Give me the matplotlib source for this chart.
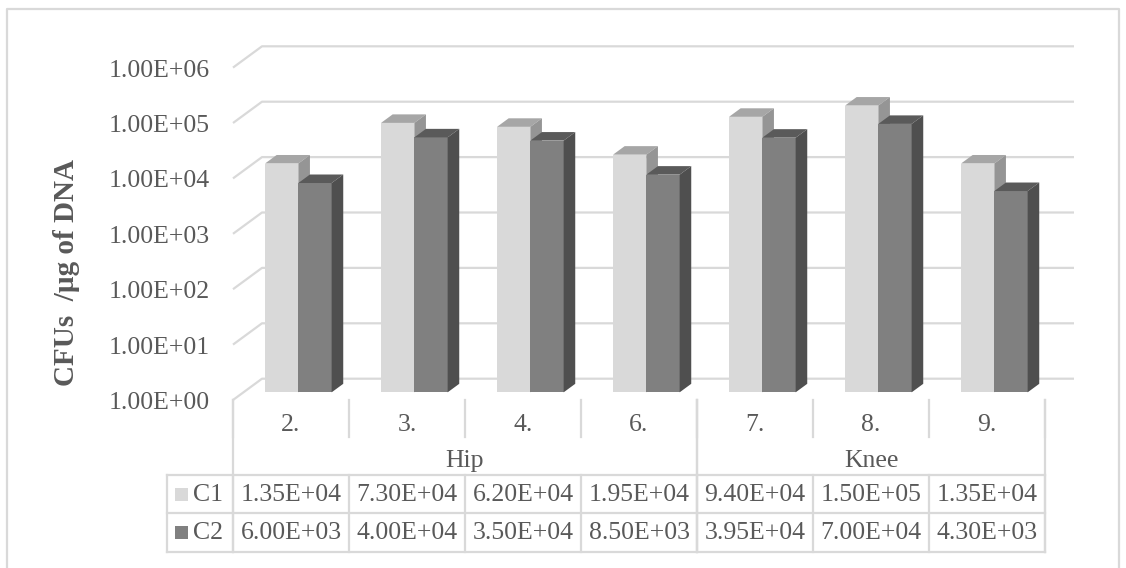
"""Excel-style 3D clustered columns (log scale) with a data table underneath."""

import matplotlib
matplotlib.use("Agg")
import matplotlib.pyplot as plt  # noqa: E402
import numpy as np  # noqa: E402
from matplotlib.patches import Polygon, Rectangle  # noqa: E402

# ---------- data ----------
CATS = ["2.", "3.", "4.", "6.", "7.", "8.", "9."]
GROUPS = ["Hip", "Knee"]
GROUP_SPAN = [(0, 4), (4, 7)]          # category index ranges per group
C1 = [1.35e4, 7.30e4, 6.20e4, 1.95e4, 9.40e4, 1.50e5, 1.35e4]
C2 = [6.00e3, 4.00e4, 3.50e4, 8.50e3, 3.95e4, 7.00e4, 4.30e3]
C1_TXT = ["1.35E+04", "7.30E+04", "6.20E+04", "1.95E+04",
          "9.40E+04", "1.50E+05", "1.35E+04"]
C2_TXT = ["6.00E+03", "4.00E+04", "3.50E+04", "8.50E+03",
          "3.95E+04", "7.00E+04", "4.30E+03"]
DECADES = list(range(0, 7))
YLABEL = "CFUs  /µg of DNA"

# ---------- style ----------
W, H = 1126, 568
GRID = "#d9d9d9"
TXT = "#595959"
FACES = {  # front, top, side
    "C1": ("#d9d9d9", "#a6a6a6", "#959595"),
    "C2": ("#808080", "#5a5a5a", "#4f4f4f"),
}
FONT = ["Liberation Serif", "DejaVu Serif"]
FS = 18.5

plt.rcParams["font.family"] = FONT

# pixel geometry of the plot box
X0, COLW = 233.0, 116.0        # front-left of category 0, width per category
Y0, DEC = 400.0, 55.4          # front floor y, pixels per decade
DEPTH = (29.0, -21.3)          # full floor depth vector (px)
F0, FB = 0.36, 0.40            # bar front plane depth fraction, bar depth
BAR_W = 33.3 / COLW
BAR_L = 21.6 / COLW

fig = plt.figure(figsize=(W / 100, H / 100), dpi=100)

# overlay in pixel coords for border/table
pix = fig.add_axes([0, 0, 1, 1])
pix.set_xlim(0, W)
pix.set_ylim(H, 0)
pix.axis("off")

# main axes: x in categories, y in decades
n = len(CATS)
ax = fig.add_axes([X0 / W, (H - Y0) / H, n * COLW / W, 6 * DEC / H])
ax.set_xlim(0, n)
ax.set_ylim(0, 6)
ax.axis("off")

ddx, ddy = DEPTH[0] / COLW, -DEPTH[1] / DEC   # full depth in data units


def shift(f):
    return ddx * f, ddy * f


# gridlines: left-wall diagonal + back wall
bx, by = shift(1.0)
for d in DECADES:
    ax.plot([0, bx, n + bx], [d, d + by, d + by], color=GRID, lw=1.6,
            solid_capstyle="butt", clip_on=False, zorder=1)

# bars
fx, fy = shift(F0)
sx, sy = shift(FB)
for i in range(n):
    for j, (name, vals) in enumerate((("C1", C1), ("C2", C2))):
        front, top, side = FACES[name]
        v = np.log10(vals[i])
        xl = i + BAR_L + fx + j * BAR_W
        xr = xl + BAR_W
        yb, yt = fy, fy + v
        z = 3 + i * 0.01 + j * 0.001
        ax.add_patch(Polygon([(xl, yb), (xr, yb), (xr, yt), (xl, yt)],
                             closed=True, fc=front, ec="none", zorder=z,
                             clip_on=False))
        ax.add_patch(Polygon([(xl, yt), (xr, yt), (xr + sx, yt + sy),
                              (xl + sx, yt + sy)],
                             closed=True, fc=top, ec="none", zorder=z,
                             clip_on=False))
        ax.add_patch(Polygon([(xr, yb), (xr + sx, yb + sy),
                              (xr + sx, yt + sy), (xr, yt)],
                             closed=True, fc=side, ec="none", zorder=z,
                             clip_on=False))

# y tick labels
for d in DECADES:
    ax.text(-23 / COLW, d - 3 / DEC, f"1.00E+{d:02d}", ha="right",
            va="center", fontsize=FS, color=TXT, clip_on=False)

pix.text(66, 272, YLABEL, rotation=90, ha="center", va="center",
         fontsize=21, fontweight="bold", color=TXT)

# ---------- data table ----------
lw = 1.6
R_CAT, R_GRP, R_C1, R_C2 = 437.3, 475.0, 513.3, 551.7
KEY_L = 166.7
xr_tab = X0 + n * COLW
# category separators
for k in range(n + 1):
    pix.plot([X0 + k * COLW] * 2, [Y0, R_CAT], color=GRID, lw=lw)
# group separators
for a, b in GROUP_SPAN:
    for k in (a, b):
        pix.plot([X0 + k * COLW] * 2, [Y0, R_C2], color=GRID, lw=lw)
# value-row separators
for k in range(n + 1):
    pix.plot([X0 + k * COLW] * 2, [R_GRP, R_C2], color=GRID, lw=lw)
pix.plot([KEY_L, KEY_L], [R_GRP, R_C2], color=GRID, lw=lw)
for yy in (R_GRP, R_C1, R_C2):
    pix.plot([KEY_L, xr_tab], [yy, yy], color=GRID, lw=lw)

for k, c in enumerate(CATS):
    pix.text(X0 + (k + 0.5) * COLW, 425, c, ha="center", va="center",
             fontsize=FS, color=TXT)
for g, (a, b) in zip(GROUPS, GROUP_SPAN):
    pix.text(X0 + (a + b) / 2 * COLW, 461, g, ha="center", va="center",
             fontsize=FS, color=TXT)
for row_y, txts, name in ((495, C1_TXT, "C1"), (533, C2_TXT, "C2")):
    for k, t in enumerate(txts):
        pix.text(X0 + (k + 0.5) * COLW, row_y, t, ha="center", va="center",
                 fontsize=FS, color=TXT)
    pix.add_patch(Rectangle((175, row_y - 7.5), 13, 13,
                            fc=FACES[name][0], ec="none"))
    pix.text(193, row_y, name, ha="left", va="center", fontsize=FS,
             color=TXT)

# outer chart border
pix.plot([7.3, 7.3, 1119, 1119], [H + 5, 9.3, 9.3, H + 5], color=GRID,
         lw=1.6, clip_on=True)

fig.savefig("out.png", dpi=100)
